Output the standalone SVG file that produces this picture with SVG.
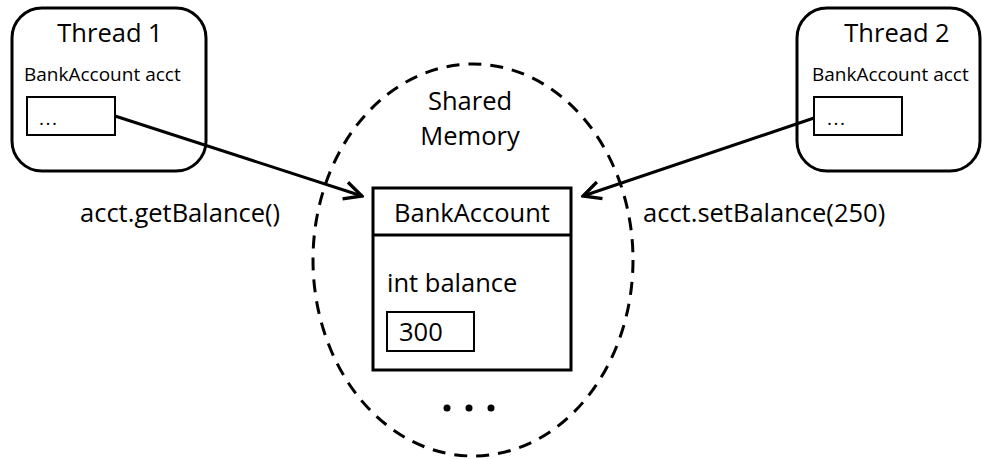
<svg xmlns="http://www.w3.org/2000/svg" width="982" height="459" viewBox="0 0 982 459">
<defs>
<style>
text{font-family:"Open Sans","Noto Sans","Liberation Sans",sans-serif;fill:#000}
.big{font-size:25.5px}
.small{font-size:19px}
.dots{font-size:19px;letter-spacing:1.5px}
.thread{fill:#fff;stroke:#000;stroke-width:3}
.box{fill:#fff;stroke:#000;stroke-width:2}
.conn{stroke:#000;stroke-width:3;fill:none}
</style>
<marker id="arr" viewBox="0 0 20 20" refX="18" refY="10" markerWidth="22" markerHeight="22" markerUnits="userSpaceOnUse" orient="auto">
<path d="M2,2 L18,10 L2,18" fill="none" stroke="#000" stroke-width="3"/>
</marker>
</defs>
<rect width="982" height="459" fill="#fff"/>
<g id="shared-memory">
<ellipse cx="473" cy="260" rx="160" ry="196" fill="none" stroke="#000" stroke-width="3" stroke-dasharray="13 9"/>
<text class="big" x="470" y="110" text-anchor="middle">Shared</text>
<text class="big" x="470" y="145" text-anchor="middle">Memory</text>
</g>
<g id="thread1">
<rect class="thread" x="12" y="8" width="194" height="163" rx="30"/>
<text class="big" x="110" y="42" text-anchor="middle">Thread 1</text>
<text class="small" x="24" y="81">BankAccount acct</text>
<rect class="box" x="27" y="97" width="88" height="38"/>
<text class="dots" x="39" y="125">...</text>
</g>
<g id="thread2">
<rect class="thread" x="797" y="8" width="183" height="163" rx="30"/>
<text class="big" x="897" y="42" text-anchor="middle">Thread 2</text>
<text class="small" x="812" y="81">BankAccount acct</text>
<rect class="box" x="814" y="97" width="88" height="38"/>
<text class="dots" x="827" y="125">...</text>
</g>
<g id="bankaccount">
<rect x="373" y="188" width="198" height="182" fill="#fff" stroke="#000" stroke-width="3"/>
<line x1="373" y1="235" x2="571" y2="235" stroke="#000" stroke-width="3"/>
<text class="big" x="472" y="222" text-anchor="middle">BankAccount</text>
<text class="big" x="387" y="292">int balance</text>
<rect class="box" x="387" y="312" width="87" height="39"/>
<text class="big" x="399" y="341">300</text>
<circle cx="447" cy="408" r="3.5"/>
<circle cx="469" cy="408" r="3.5"/>
<circle cx="491" cy="408" r="3.5"/>
</g>
<g id="connectors">
<line class="conn" x1="115" y1="116" x2="362" y2="196" marker-end="url(#arr)"/>
<line class="conn" x1="814" y1="118" x2="583" y2="196" marker-end="url(#arr)"/>
</g>
<g id="labels">
<text class="big" x="80" y="222">acct.getBalance()</text>
<text class="big" x="643" y="222">acct.setBalance(250)</text>
</g>
</svg>
